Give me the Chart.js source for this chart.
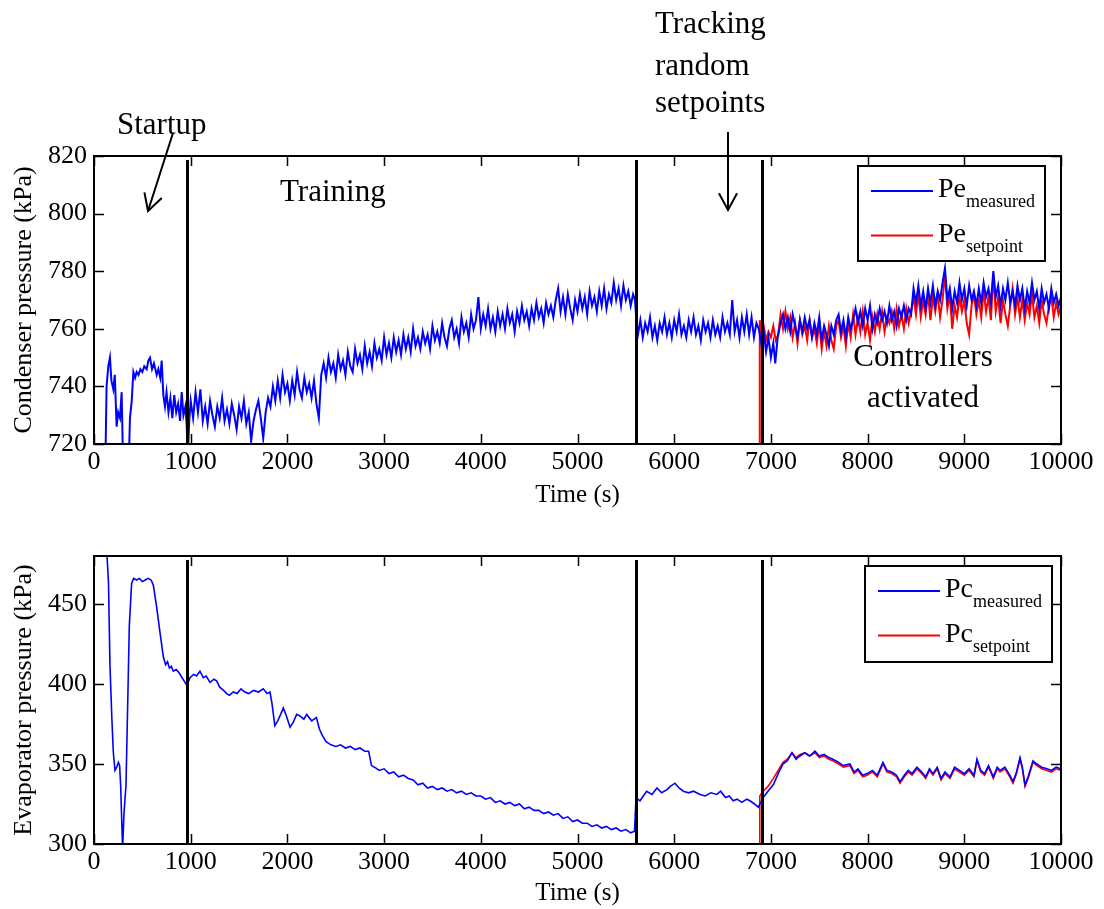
<!DOCTYPE html>
<html><head><meta charset="utf-8">
<script src="https://cdn.jsdelivr.net/npm/chart.js@4/dist/chart.umd.min.js"></script>
<style>
html,body{margin:0;padding:0;background:#fff;}
#wrap{position:relative;width:1104px;height:909px;background:#fff;}
#c1box{position:absolute;left:0;top:0;width:1104px;height:520px;}
#c2box{position:absolute;left:0;top:520px;width:1104px;height:389px;}
</style></head><body>
<div id="wrap"><div id="c1box"><canvas id="c1"></canvas></div><div id="c2box"><canvas id="c2"></canvas></div></div>
<script>
// ---------- DATA ----------
const xTicks = [0,1000,2000,3000,4000,5000,6000,7000,8000,9000,10000];
const yTicksTop = [720,740,760,780,800,820];
const yTicksBottom = [300,350,400,450];
const phaseLines = [962, 5605, 6905];

// [time (s), kPa]
const peMeasured = [[120,718],[130,740],[148,747],[165,750],[180,742],[200,739],[215,744],[234,726],[250,731],[269,729],[286,738],[300,714],[330,712],[360,714],[372,729],[390,735],[407,745],[425,743],[441,745],[460,744],[480,746],[500,745],[520,747],[545,746],[562,749],[579,750],[600,746],[620,748],[648,744],[665,746],[685,743],[700,749],[717,737],[734,733],[750,738],[770,731],[790,736],[810,729],[830,737],[850,731],[870,734],[890,728],[907,738],[925,730],[945,733],[958,727],[970,716],[985,728],
[1000,735],[1025,729],[1050,738],[1075,731],[1100,739],[1125,728],[1150,733],[1175,727],[1200,735],[1225,730],
[1250,726],[1275,733],[1300,729],[1325,736],[1350,728],[1375,732],[1400,727],[1425,734],[1450,730],[1475,725],
[1500,733],[1525,729],[1550,735],[1575,727],[1600,731],[1625,721],[1650,728],[1675,732],[1700,735],[1725,729],
[1750,722],[1775,731],[1800,736],[1825,733],[1850,740],[1875,735],[1900,742],[1925,736],[1950,744],[1975,738],
[2000,741],[2025,735],[2050,742],[2075,737],[2100,745],[2125,739],[2150,736],[2175,743],[2200,738],[2225,741],
[2250,736],[2275,742],[2300,734],[2325,729],[2350,744],[2375,748],[2400,743],[2425,750],[2450,745],[2475,748],
[2500,743],[2525,751],[2550,746],[2575,749],[2600,744],[2625,752],[2650,747],[2675,745],[2700,753],[2725,748],
[2750,751],[2775,746],[2800,754],[2825,748],[2850,752],[2875,747],[2900,755],[2925,750],[2950,753],[2975,749],
[3000,757],[3025,751],[3050,755],[3075,750],[3100,757],[3125,752],[3150,756],[3175,751],[3200,758],[3225,753],
[3250,757],[3275,752],[3300,760],[3325,754],[3350,757],[3375,753],[3400,759],[3425,755],[3450,758],[3475,753],
[3500,761],[3525,756],[3550,759],[3575,755],[3600,762],[3625,757],[3650,754],[3675,760],[3700,763],[3725,757],
[3750,760],[3775,755],[3800,764],[3825,759],[3850,762],[3875,757],[3900,765],[3925,760],[3950,763],[3975,771],
[4000,760],[4025,765],[4050,761],[4075,767],[4100,760],[4125,764],[4150,759],[4175,766],[4200,761],[4225,765],
[4250,760],[4275,767],[4300,762],[4325,765],[4350,759],[4375,766],[4400,762],[4425,768],[4450,763],[4475,766],
[4500,761],[4525,767],[4550,763],[4575,769],[4600,764],[4625,767],[4650,762],[4675,769],[4700,765],[4725,768],
[4750,764],[4775,770],[4800,774],[4825,766],[4850,771],[4875,765],[4900,772],[4925,767],[4950,763],[4975,770],
[5000,766],[5025,772],[5050,767],[5075,771],[5100,765],[5125,773],[5150,768],[5175,771],[5200,766],[5225,773],
[5250,768],[5275,774],[5300,767],[5325,772],[5350,769],[5375,776],[5400,770],[5425,774],[5450,768],[5475,775],
[5500,770],[5525,773],[5550,768],[5575,772],[5595,770],[5610,762],
[5625,758],[5650,763],[5675,757],[5700,762],[5725,759],[5750,764],[5775,757],[5800,761],[5825,756],[5850,762],
[5875,759],[5900,764],[5925,758],[5950,762],[5975,757],[6000,763],[6025,759],[6050,765],[6075,758],[6100,761],
[6125,757],[6150,763],[6175,759],[6200,764],[6225,758],[6250,761],[6275,756],[6300,763],[6325,759],[6350,762],
[6375,757],[6400,763],[6425,758],[6450,761],[6475,757],[6500,764],[6525,759],[6550,762],[6575,758],[6600,770],
[6625,759],[6650,763],[6675,757],[6700,764],[6725,759],[6750,765],[6775,758],[6800,764],[6825,757],[6850,762],[6875,760],
[6900,755],[6925,759],[6950,752],[6975,757],[7000,750],[7025,755],[7045,748],[7070,757],[7100,762],
[7125,765],[7150,760],[7175,764],[7200,759],[7225,765],[7250,761],[7275,757],[7300,763],[7325,759],[7350,764],
[7375,760],[7400,763],[7425,757],[7450,762],[7475,758],[7500,764],[7525,756],[7550,761],[7575,758],[7600,754],
[7625,761],[7650,758],[7675,763],[7700,765],[7725,759],[7750,763],[7775,757],[7800,764],[7825,760],[7850,763],
[7875,767],[7900,762],[7925,766],[7950,761],[7975,767],[8000,763],[8025,768],[8050,760],[8075,765],[8100,762],
[8125,767],[8150,763],[8175,766],[8200,762],[8225,768],[8250,763],[8275,766],[8300,761],[8325,767],[8350,764],
[8375,768],[8400,763],[8425,767],[8450,765],[8475,774],[8500,769],[8525,775],[8550,768],[8575,773],[8600,767],
[8625,774],[8650,769],[8675,775],[8700,768],[8725,773],[8750,770],[8775,776],[8800,781],[8825,770],[8850,774],
[8875,767],[8900,773],[8925,769],[8950,776],[8975,770],[9000,774],[9025,768],[9050,775],[9075,770],[9100,773],
[9125,768],[9150,774],[9175,769],[9200,776],[9225,771],[9250,774],[9275,769],[9300,780],[9325,771],[9350,775],
[9375,768],[9400,774],[9425,770],[9450,776],[9475,769],[9500,773],[9525,768],[9550,775],[9575,770],[9600,774],
[9625,767],[9650,773],[9675,769],[9700,776],[9725,770],[9750,773],[9775,767],[9800,774],[9825,769],[9850,772],
[9875,767],[9900,774],[9925,769],[9950,772],[9975,768],[10000,771]];

const peSetpoint = [[6878,712],[6885,763],[6900,758],[6925,761],[6950,756],[6975,759],[7000,757],[7025,761],[7050,756],[7075,758],
[7100,765],[7125,760],[7150,766],[7175,760],[7200,764],[7225,757],[7250,762],[7275,755],[7300,763],[7325,758],
[7350,761],[7375,756],[7400,763],[7425,757],[7450,760],[7475,755],[7500,762],[7525,753],[7550,759],[7575,754],
[7600,761],[7625,756],[7650,753],[7675,761],[7700,763],[7725,757],[7750,761],[7775,754],[7800,762],[7825,757],
[7850,765],[7875,758],[7900,764],[7925,759],[7950,766],[7975,758],[8000,762],[8025,756],[8050,764],[8075,759],
[8100,765],[8125,760],[8150,766],[8175,759],[8200,764],[8225,762],[8250,766],[8275,760],[8300,767],[8325,761],
[8350,765],[8375,760],[8400,767],[8425,762],[8450,766],[8475,771],[8500,765],[8525,772],[8550,764],[8575,770],
[8600,765],[8625,772],[8650,763],[8675,771],[8700,766],[8725,772],[8750,764],[8775,770],[8800,779],[8825,767],
[8850,772],[8875,760],[8900,768],[8925,764],[8950,771],[8975,766],[9000,770],[9025,762],[9050,758],[9075,768],
[9100,772],[9125,765],[9150,770],[9175,764],[9200,773],[9225,766],[9250,771],[9275,763],[9300,779],[9325,766],
[9350,771],[9375,762],[9400,770],[9425,765],[9450,761],[9475,768],[9500,774],[9525,765],[9550,771],[9575,764],
[9600,770],[9625,763],[9650,769],[9675,765],[9700,772],[9725,764],[9750,768],[9775,762],[9800,770],[9825,765],
[9850,762],[9875,768],[9900,771],[9925,764],[9950,769],[9975,765],[10000,768]];

const pcMeasured = [[120,500],[134,481],[150,463],[165,412],[185,378],[200,357],[217,346],[235,348],[252,351],[265,349],[276,336],[288,312],[296,297],[310,319],[331,337],[348,386],[365,436],[389,463],[410,466],[440,465],[470,466],[500,464],[530,465],[560,466],[590,465],[613,462],[648,448],[683,432],[717,417],[740,412],[760,414],[780,410],[800,411],[820,408],[850,409],[880,407],[900,405],[941,401],[960,399],[993,404],[1030,406],[1060,405],[1096,408],[1130,404],[1160,405],[1200,401],[1240,403],[1268,402],[1300,398],[1340,396],[1372,394],[1400,393],[1441,395],[1480,394],[1520,397],[1560,395],[1600,394],[1650,396],[1700,395],[1750,397],[1790,394],[1820,395],[1840,388],[1870,374],[1900,377],[1930,381],[1958,385],[1990,380],[2027,373],[2060,376],[2096,381],[2130,380],[2170,378],[2200,381],[2250,377],[2300,379],[2330,372],[2360,368],[2400,364],[2450,362],[2500,361],[2550,362],[2600,360],[2650,361],[2700,359],[2750,360],[2800,358],[2840,358],[2870,349],[2900,348],[2950,346],[3000,347],[3050,344],[3100,345],[3150,342],[3200,343],[3250,341],[3300,340],[3350,337],[3400,338],[3450,335],[3500,336],[3550,334],[3600,335],[3650,333],[3700,334],[3750,332],[3800,333],[3850,331],[3900,332],[3950,330],[4000,330],[4050,328],[4100,329],[4150,326],[4200,327],[4250,325],[4300,326],[4350,324],[4400,325],[4450,322],[4500,323],[4550,321],[4600,321],[4650,319],[4700,320],[4750,318],[4800,319],[4850,316],[4900,317],[4950,314],[5000,315],[5050,313],[5100,313],[5150,311],[5200,312],[5250,310],[5300,311],[5350,309],[5400,310],[5450,308],[5500,309],[5550,307],[5590,308],[5605,329],[5646,327],[5715,333],[5770,331],[5822,335],[5870,332],[5925,334],[5960,336],[6008,338],[6050,335],[6094,333],[6150,332],[6200,333],[6267,331],[6320,330],[6380,332],[6440,331],[6480,333],[6530,329],[6570,330],[6610,327],[6650,328],[6700,326],[6750,328],[6784,327],[6830,325],[6870,323],[6920,329],[6970,333],[7025,337],[7075,344],[7125,350],[7170,352],[7218,357],[7260,353],[7300,355],[7350,357],[7400,355],[7456,358],[7500,355],[7550,356],[7600,354],[7642,353],[7700,351],[7750,349],[7818,350],[7860,345],[7900,347],[7950,343],[7994,344],[8050,346],[8100,343],[8159,351],[8200,346],[8250,345],[8300,343],[8335,339],[8380,343],[8420,346],[8460,344],[8510,348],[8560,345],[8600,342],[8640,347],[8676,344],[8720,348],[8760,341],[8800,345],[8852,342],[8900,348],[8950,346],[9000,344],[9050,347],[9100,343],[9131,353],[9170,346],[9210,344],[9250,349],[9300,342],[9340,348],[9369,346],[9420,348],[9470,343],[9504,339],[9540,345],[9576,354],[9600,348],[9628,337],[9660,342],[9710,352],[9750,350],[9800,348],[9855,347],[9900,346],[9950,348],[10000,347]];

const pcSetpoint = [[6878,298],[6885,330],[6920,333],[6970,336],[7025,341],[7075,346],[7125,351],[7170,353],[7218,357],[7260,354],[7300,356],[7350,357],[7400,355],[7456,357],[7500,354],[7550,355],[7600,353],[7642,352],[7700,350],[7750,348],[7818,349],[7860,344],[7900,346],[7950,342],[7994,343],[8050,345],[8100,342],[8159,350],[8200,345],[8250,344],[8300,342],[8335,338],[8380,342],[8420,345],[8460,343],[8510,347],[8560,344],[8600,341],[8640,346],[8676,343],[8720,347],[8760,340],[8800,344],[8852,341],[8900,347],[8950,345],[9000,343],[9050,346],[9100,342],[9131,352],[9170,345],[9210,343],[9250,348],[9300,341],[9340,347],[9369,345],[9420,347],[9470,342],[9504,338],[9540,344],[9576,353],[9600,347],[9628,336],[9660,341],[9710,351],[9750,349],[9800,347],[9855,346],[9900,345],[9950,347],[10000,346]];

// ---------- STYLE ----------
const FONT = "'Liberation Serif','Times New Roman',serif";
const BLUE = '#0000ff', RED = '#ff0000';

function pts(arr){ return arr.map(p => ({x:p[0], y:p[1]})); }

const decor = {
  id:'decor',
  afterDatasetsDraw(chart, args, opts){
    const {ctx, chartArea:a, scales:{x, y}} = chart;
    ctx.save();
    ctx.strokeStyle = '#000'; ctx.lineWidth = 3;
    phaseLines.forEach(t => {
      const px = Math.round(x.getPixelForValue(t)) + 0.5;
      ctx.beginPath(); ctx.moveTo(px, a.top + 4); ctx.lineTo(px, a.bottom); ctx.stroke();
    });
    ctx.lineWidth = 1.5;
    xTicks.forEach(v => {
      const px = Math.round(x.getPixelForValue(v)) + 0.5;
      ctx.beginPath();
      ctx.moveTo(px, a.bottom); ctx.lineTo(px, a.bottom - 10);
      ctx.moveTo(px, a.top); ctx.lineTo(px, a.top + 10);
      ctx.stroke();
    });
    opts.yTicks.forEach(v => {
      const py = Math.round(y.getPixelForValue(v)) + 0.5;
      ctx.beginPath();
      ctx.moveTo(a.left, py); ctx.lineTo(a.left + 10, py);
      ctx.moveTo(a.right, py); ctx.lineTo(a.right - 10, py);
      ctx.stroke();
    });
    ctx.lineWidth = 2;
    ctx.strokeRect(a.left, a.top, a.right - a.left, a.bottom - a.top);
    const L = opts.legend;
    const bx = a.right - L.dxRight - 187, by = a.top + L.dyTop;
    ctx.fillStyle = '#fff';
    ctx.fillRect(bx, by, 187, L.h);
    ctx.strokeStyle = '#000'; ctx.lineWidth = 2;
    ctx.strokeRect(bx, by, 187, L.h);
    L.items.forEach((it, i) => {
      const ly = by + 25 + i * 44.5;
      ctx.strokeStyle = it.color; ctx.lineWidth = 2;
      ctx.beginPath(); ctx.moveTo(bx + 13, ly); ctx.lineTo(bx + 75, ly); ctx.stroke();
      ctx.fillStyle = '#000';
      ctx.textBaseline = 'alphabetic'; ctx.textAlign = 'left';
      ctx.font = '28px ' + FONT;
      const tx = bx + 80, base = ly + 6;
      ctx.fillText(it.main, tx, base);
      const w = ctx.measureText(it.main).width;
      ctx.font = '18px ' + FONT;
      ctx.fillText(it.sub, tx + w, base + 10);
    });
    if (opts.notes) {
      ctx.fillStyle = '#000'; ctx.strokeStyle = '#000';
      ctx.font = '31px ' + FONT; ctx.textBaseline = 'alphabetic';
      opts.notes.forEach(n => { ctx.textAlign = n.align; ctx.fillText(n.text, n.x, n.y); });
      ctx.lineWidth = 2;
      opts.arrows.forEach(ar => {
        ctx.beginPath(); ctx.moveTo(ar[0], ar[1]); ctx.lineTo(ar[2], ar[3]); ctx.stroke();
        const ang = Math.atan2(ar[3] - ar[1], ar[2] - ar[0]);
        const hl = 19, hw = 0.5;
        ctx.beginPath();
        ctx.moveTo(ar[2] - hl * Math.cos(ang - hw), ar[3] - hl * Math.sin(ang - hw));
        ctx.lineTo(ar[2], ar[3]);
        ctx.lineTo(ar[2] - hl * Math.cos(ang + hw), ar[3] - hl * Math.sin(ang + hw));
        ctx.stroke();
      });
    }
    ctx.restore();
  }
};

function makeChart(id, cfg){
  return new Chart(document.getElementById(id), {
    type:'line',
    data:{datasets: cfg.datasets.map(d => ({
      label:d.label, data:pts(d.data), borderColor:d.color, backgroundColor:d.color,
      borderWidth:d.width, pointRadius:0, tension:0, fill:false
    }))},
    options:{
      responsive:true, maintainAspectRatio:false, animation:false, devicePixelRatio:1,
      layout:{padding:{left:0, right:43, top:cfg.padTop, bottom:0}},
      plugins:{legend:{display:false}, tooltip:{enabled:false}, decor:cfg.decor},
      scales:{
        x:{type:'linear', min:0, max:10000,
          afterBuildTicks: s => { s.ticks = xTicks.map(v => ({value:v})); },
          afterFit: s => { s.height = cfg.xHeight; },
          grid:{display:false, drawTicks:false}, border:{display:false},
          ticks:{font:{family:FONT, size:26, lineHeight:1.2}, color:'#000', padding:3, maxRotation:0, autoSkip:false, callback: v => String(v)},
          title:{display:true, text:'Time (s)', color:'#000', font:{family:FONT, size:25, lineHeight:1.2}, padding:{top:0, bottom:cfg.xTitlePad}}
        },
        y:{type:'linear', min:cfg.yMin, max:cfg.yMax,
          afterBuildTicks: s => { s.ticks = cfg.yTicks.map(v => ({value:v})); },
          afterFit: s => { s.width = 94; },
          grid:{display:false, drawTicks:false}, border:{display:false},
          ticks:{font:{family:FONT, size:26, lineHeight:1.2}, color:'#000', padding:7, callback: v => String(v)},
          title:{display:true, text:cfg.yTitle, color:'#000', font:{family:FONT, size:26, lineHeight:1.2}, padding:{top:9, bottom:0}}
        }
      }
    },
    plugins:[decor]
  });
}

makeChart('c1', {
  padTop:156, xHeight:76, xTitlePad:10, yMin:720, yMax:820, yTicks:yTicksTop,
  yTitle:'Condenser pressure (kPa)',
  datasets:[
    {label:'Pe measured', data:peMeasured, color:BLUE, width:2},
    {label:'Pe setpoint', data:peSetpoint, color:RED, width:2}
  ],
  decor:{
    yTicks:yTicksTop,
    legend:{dxRight:16, dyTop:10, h:95, items:[{main:'Pe', sub:'measured', color:BLUE},{main:'Pe', sub:'setpoint', color:RED}]},
    notes:[
      {text:'Startup', x:117, y:134, align:'left'},
      {text:'Training', x:280, y:201, align:'left'},
      {text:'Tracking', x:655, y:33, align:'left'},
      {text:'random', x:655, y:75, align:'left'},
      {text:'setpoints', x:655, y:112, align:'left'},
      {text:'Controllers', x:923, y:366, align:'center'},
      {text:'activated', x:923, y:407, align:'center'}
    ],
    arrows:[[173,133,148,211],[728,132,728,210]]
  }
});

makeChart('c2', {
  padTop:36, xHeight:65, xTitlePad:1, yMin:300, yMax:480, yTicks:yTicksBottom,
  yTitle:'Evaporator pressure (kPa)',
  datasets:[
    {label:'Pc measured', data:pcMeasured, color:BLUE, width:1.6},
    {label:'Pc setpoint', data:pcSetpoint, color:RED, width:1.6}
  ],
  decor:{
    yTicks:yTicksBottom,
    legend:{dxRight:9, dyTop:10, h:96, items:[{main:'Pc', sub:'measured', color:BLUE},{main:'Pc', sub:'setpoint', color:RED}]}
  }
});
</script>
</body></html>
